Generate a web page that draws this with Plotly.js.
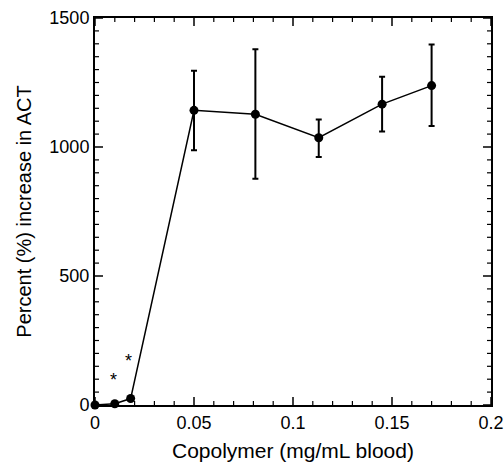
<!DOCTYPE html>
<html>
<head>
<meta charset="utf-8">
<script src="https://cdn.plot.ly/plotly-3.0.1.min.js"></script>
<style>html,body{margin:0;padding:0;background:#fff;}#chart{width:504px;height:467px;}</style>
</head>
<body>
<div id="chart"></div>
<script>
// Data
const copolymer = [0, 0.010, 0.018, 0.050, 0.081, 0.113, 0.145, 0.170];
const actIncrease = [0, 5, 25, 1142, 1127, 1036, 1166, 1238];
const errUpper = [0, 0, 0, 154, 252, 71, 106, 159];
const errLower = [0, 0, 0, 155, 250, 75, 106, 157];
const starX = [0.0094, 0.0167];
const starY = [98, 172];
const xRange = [0, 0.2];
const yRange = [0, 1500];
const xMajorStep = 0.05, xMinorStep = 0.01;
const yMajorStep = 500, yMinorStep = 50;

const FONT = 'Liberation Sans, Arial, Helvetica, sans-serif';
const W = 504, H = 467;
const M = {l: 95, r: 13, t: 18, b: 62};
const plotW = W - M.l - M.r, plotH = H - M.t - M.b;
const dxPerPx = (xRange[1] - xRange[0]) / plotW;
const dyPerPx = (yRange[1] - yRange[0]) / plotH;

// Inside tick marks on all four sides, built as line traces on the axis scales
function tickValues(range, step) {
  const n = Math.round((range[1] - range[0]) / step);
  const vals = [];
  for (let i = 0; i <= n; i++) vals.push({v: range[0] + i * step, i: i});
  return vals;
}
const major = {x: [], y: []}, minor = {x: [], y: []};
function seg(t, x0, y0, x1, y1) { t.x.push(x0, x1, null); t.y.push(y0, y1, null); }
const xRatio = Math.round(xMajorStep / xMinorStep);
tickValues(xRange, xMinorStep).forEach(t => {
  const isMajor = t.i % xRatio === 0, tgt = isMajor ? major : minor, len = (isMajor ? 8 : 4) * dyPerPx;
  seg(tgt, t.v, yRange[0], t.v, yRange[0] + len);
  seg(tgt, t.v, yRange[1], t.v, yRange[1] - len);
});
const yRatio = Math.round(yMajorStep / yMinorStep);
tickValues(yRange, yMinorStep).forEach(t => {
  const isMajor = t.i % yRatio === 0, tgt = isMajor ? major : minor, len = (isMajor ? 8 : 4) * dxPerPx;
  seg(tgt, xRange[0], t.v, xRange[0] + len, t.v);
  seg(tgt, xRange[1], t.v, xRange[1] - len, t.v);
});
const majorTicks = {x: major.x, y: major.y, type: 'scatter', mode: 'lines',
  line: {color: '#000', width: 1.5}, hoverinfo: 'skip', showlegend: false, cliponaxis: false};
const minorTicks = {x: minor.x, y: minor.y, type: 'scatter', mode: 'lines',
  line: {color: '#000', width: 1.2}, hoverinfo: 'skip', showlegend: false, cliponaxis: false};

const trace = {
  x: copolymer,
  y: actIncrease,
  type: 'scatter',
  mode: 'lines+markers',
  line: {color: '#000', width: 1.5},
  marker: {color: '#000', size: 9, symbol: 'circle'},
  error_y: {
    type: 'data', symmetric: false,
    array: errUpper, arrayminus: errLower,
    color: '#000', thickness: 2, width: 3
  },
  cliponaxis: false,
  showlegend: false
};

const annotations = starX.map((x, i) => ({
  x: x, y: starY[i], xref: 'x', yref: 'y',
  text: '*', showarrow: false,
  font: {family: FONT, size: 18, color: '#000'},
  xanchor: 'center', yanchor: 'middle'
}));

const layout = {
  width: W, height: H,
  margin: M,
  paper_bgcolor: '#fff', plot_bgcolor: '#fff',
  showlegend: false,
  xaxis: {
    range: xRange, dtick: xMajorStep,
    showline: true, linecolor: '#000', linewidth: 2, mirror: true,
    ticks: '', showgrid: false, zeroline: false,
    tickfont: {family: FONT, size: 18, color: '#000'},
    title: {text: 'Copolymer (mg/mL blood)', font: {family: FONT, size: 21, color: '#000'}, standoff: 12}
  },
  yaxis: {
    range: yRange, dtick: yMajorStep,
    showline: true, linecolor: '#000', linewidth: 2, mirror: true,
    ticks: '', showgrid: false, zeroline: false,
    tickfont: {family: FONT, size: 18, color: '#000'},
    title: {text: 'Percent (%) increase in ACT', font: {family: FONT, size: 20, color: '#000'}, standoff: 12}
  },
  annotations: annotations
};

Plotly.newPlot('chart', [majorTicks, minorTicks, trace], layout, {staticPlot: true});
</script>
</body>
</html>
